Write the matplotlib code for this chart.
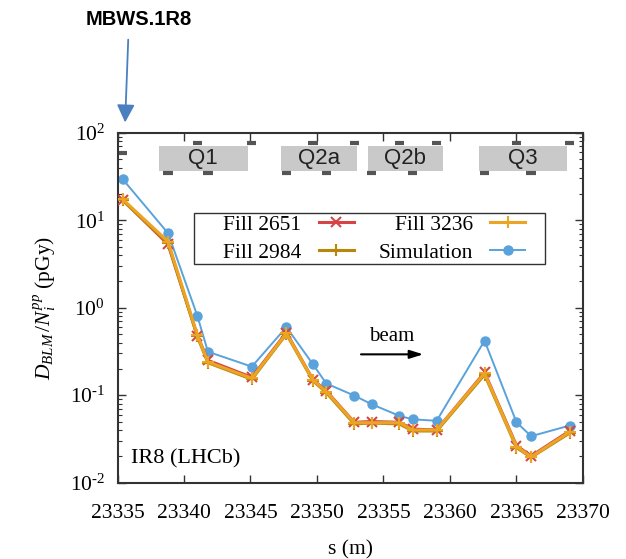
import matplotlib
matplotlib.use('Agg')
import matplotlib.pyplot as plt
from matplotlib.patches import Rectangle, FancyArrowPatch
from matplotlib.ticker import FuncFormatter
import numpy as np

plt.rcParams['font.family'] = ['Liberation Serif', 'DejaVu Serif']
plt.rcParams['mathtext.fontset'] = 'custom'
plt.rcParams['mathtext.rm'] = 'Liberation Serif'
plt.rcParams['mathtext.it'] = 'Liberation Serif:italic'
plt.rcParams['mathtext.bf'] = 'Liberation Serif:bold'
plt.rcParams['axes.unicode_minus'] = False

# BLM positions along s (m)
s_blm = [23335.4, 23338.8, 23341.0, 23341.8, 23345.1, 23347.7, 23349.7, 23350.7,
         23352.8, 23354.1, 23356.2, 23357.2, 23359.0, 23362.6, 23365.0, 23366.1, 23369.0]

# dose per inelastic pp collision (pGy)
fill_2651 = [17.0, 5.3, 0.48, 0.25, 0.16, 0.52, 0.15, 0.112, 0.049, 0.050, 0.049,
             0.041, 0.040, 0.182, 0.0265, 0.0202, 0.039]
fill_2984 = [16.8, 5.5, 0.47, 0.235, 0.152, 0.50, 0.146, 0.107, 0.047, 0.048, 0.047,
             0.039, 0.039, 0.172, 0.0252, 0.0195, 0.037]
fill_3236 = [17.3, 5.7, 0.49, 0.24, 0.156, 0.51, 0.149, 0.110, 0.0485, 0.0485, 0.0485,
             0.040, 0.040, 0.178, 0.0258, 0.0198, 0.038]
simulation = [29.3, 7.1, 0.81, 0.314, 0.212, 0.60, 0.225, 0.136, 0.099, 0.079, 0.058,
              0.053, 0.051, 0.42, 0.049, 0.034, 0.045]

# magnets: name, start, end
magnets = ['Q1', 'Q2a', 'Q2b', 'Q3']
mag_start = [23338.1, 23347.3, 23353.8, 23362.2]
mag_end = [23344.8, 23353.0, 23359.5, 23368.8]

# BLM markers drawn above / below the magnet boxes
blm_top = [23341.0, 23345.1, 23349.7, 23352.8, 23356.2, 23359.0, 23365.0, 23369.0]
blm_bottom = [23338.8, 23341.8, 23347.7, 23350.7, 23354.1, 23357.2, 23362.6, 23366.1]
blm_mid = [23335.4]

fig = plt.figure(figsize=(6.26, 5.59), dpi=100)
ax = fig.add_axes([0.1877, 0.1365, 0.7436, 0.6261])

ax.plot(s_blm, fill_2651, color='#d64545', lw=2.2, marker='x', ms=7, mew=1.5,
        label='Fill 2651', zorder=3)
ax.plot(s_blm, fill_2984, color='#b8860b', lw=2.2, marker='+', ms=8, mew=1.5,
        label='Fill 2984', zorder=4)
ax.plot(s_blm, fill_3236, color='#eba424', lw=2.2, marker='+', ms=8, mew=1.5,
        label='Fill 3236', zorder=5)
ax.plot(s_blm, simulation, color='#5aa2dc', lw=1.4, marker='o', ms=6.5,
        label='Simulation', zorder=2)

ax.set_yscale('log')
ax.set_xlim(23335, 23370)
ax.set_ylim(1e-2, 1e2)
ax.set_xticks(np.arange(23335, 23371, 5))


def pow10(v, pos):
    e = int(round(np.log10(v)))
    if e < 0:
        return r'$10^{\text{-}%d}$' % (-e)
    return r'$10^{%d}$' % e


ax.yaxis.set_major_formatter(FuncFormatter(pow10))

# magnet boxes
for name, a, b in zip(magnets, mag_start, mag_end):
    ax.add_patch(Rectangle((a, 36.8), b - a, 70.5 - 36.8, facecolor='#c9c9c9',
                           edgecolor='none', zorder=1))
    ax.text((a + b) / 2, np.sqrt(36.8 * 70.5), name, ha='center', va='center',
            fontsize=16, family='Liberation Sans', color='#222222', zorder=2)
for s in blm_top:
    ax.plot([s - 0.35, s + 0.35], [76, 76], color='#555555', lw=3, zorder=3,
            solid_capstyle='butt')
for s in blm_bottom:
    ax.plot([s - 0.35, s + 0.35], [34.5, 34.5], color='#555555', lw=3, zorder=3,
            solid_capstyle='butt')
for s in blm_mid:
    ax.plot([s - 0.3, s + 0.3], [59, 59], color='#555555', lw=3, zorder=3,
            solid_capstyle='butt')

# beam direction
ax.annotate('', xy=(23358.2, 0.293), xytext=(23353.1, 0.293),
            arrowprops=dict(arrowstyle='-|>,head_length=0.8,head_width=0.25',
                            color='black', lw=1.5))
ax.text(23355.6, 0.47, 'beam', ha='center', va='center', fontsize=15)
ax.text(0.03, 0.068, 'IR8 (LHCb)', transform=ax.transAxes, ha='left', va='center',
        fontsize=16)

# legend without frame, box drawn separately (gnuplot style padding)
leg = ax.legend(ncol=2, markerfirst=False, loc='upper left',
                bbox_to_anchor=(0.2266, 0.765), fontsize=15.5, frameon=False,
                handlelength=1.63, columnspacing=1.15, labelspacing=0.35,
                borderpad=0, handletextpad=0.8, borderaxespad=0)
ax.add_patch(Rectangle((0.1643, 0.6249), 0.9184 - 0.1643, 0.7714 - 0.6249,
                       transform=ax.transAxes, facecolor='white',
                       edgecolor='#333333', lw=1.0, zorder=6))
leg.set_zorder(7)

ax.tick_params(which='both', direction='in', top=True, right=True,
               labelsize=15.5, color='#333333')
ax.tick_params(which='major', length=6, width=1)
ax.tick_params(which='minor', length=3, width=0.8)
ax.tick_params(axis='x', which='major', pad=15)
ax.tick_params(axis='y', which='major', pad=9)
ax.tick_params(axis='x', which='minor', top=False, bottom=False)
for sp in ax.spines.values():
    sp.set_linewidth(1.5)
    sp.set_color('#333333')

ax.set_xlabel('s (m)', fontsize=15.5, labelpad=13)
ax.set_ylabel(r'$D_{BLM}\,/N_i^{pp}$ (pGy)', fontsize=15.5, labelpad=8)

# element marker above the plot
fig.text(0.221, 0.965, 'MBWS.1R8', ha='center', va='center', fontsize=14.5,
         fontweight='bold', family='Liberation Sans')
fig.add_artist(FancyArrowPatch((0.205, 0.934), (0.1997, 0.776),
                               transform=fig.transFigure,
                               arrowstyle='-|>,head_length=10.8,head_width=5.4',
                               color='#4a7fc0', lw=1.3, mutation_scale=1))

fig.savefig('out.png', dpi=100)
